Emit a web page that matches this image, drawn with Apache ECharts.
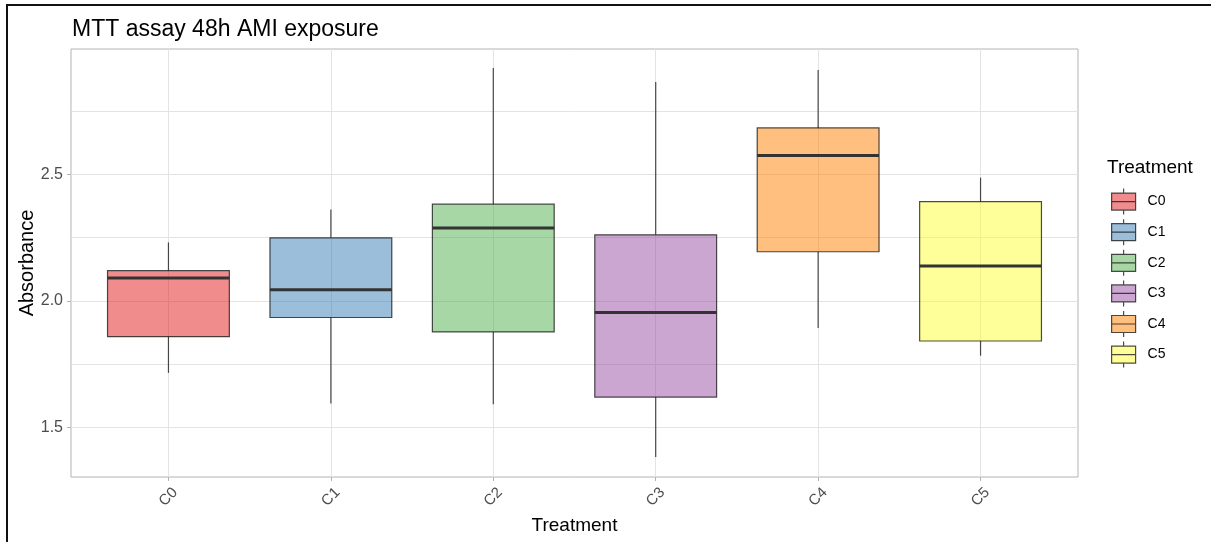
<!DOCTYPE html>
<html>
<head>
<meta charset="utf-8">
<title>MTT assay 48h AMI exposure</title>
<script src="https://cdn.jsdelivr.net/npm/echarts@6/dist/echarts.min.js"></script>
<style>
  html, body { margin: 0; padding: 0; background: #ffffff; }
  #chart { width: 1211px; height: 542px; }
</style>
</head>
<body>
<div id="chart"></div>
<script>
// Treatment groups and their box statistics (absorbance)
const CATEGORIES = ['C0', 'C1', 'C2', 'C3', 'C4', 'C5'];
const LOWER  = [1.715, 1.594, 1.591, 1.382, 1.892, 1.783];
const Q1     = [1.858, 1.934, 1.877, 1.619, 2.194, 1.841];
const MEDIAN = [2.090, 2.044, 2.288, 1.954, 2.575, 2.138];
const Q3     = [2.119, 2.249, 2.382, 2.261, 2.684, 2.392];
const UPPER  = [2.231, 2.361, 2.921, 2.865, 2.913, 2.487];

// Axis ranges and tick positions
const Y_RANGE = [1.303, 2.996];
const Y_LABEL_TICKS = [1.5, 2.0, 2.5];
const Y_GRID_TICKS = [1.5, 1.75, 2.0, 2.25, 2.5, 2.75];
const X_RANGE = [-0.6, 5.6];
const X_TICKS = [0, 1, 2, 3, 4, 5];

// Set1 palette, filled at half opacity
const PALETTE = ['#E41A1C', '#377EB8', '#4DAF4A', '#984EA3', '#FF7F00', '#FFFF33'];
const FILL_ALPHA = 0.5;
const BOX_WIDTH = 0.75;
const EDGE = 'rgba(30,30,30,0.8)';
const FONT = '"Liberation Sans", Arial, Helvetica, sans-serif';

function withAlpha(hex, a) {
  const n = parseInt(hex.slice(1), 16);
  return 'rgba(' + ((n >> 16) & 255) + ',' + ((n >> 8) & 255) + ',' + (n & 255) + ',' + a + ')';
}

// Legend key: box with whiskers and a median bar
const LEGEND_ICON = 'path://M12,0L12,4.5M0,4.5L24,4.5L24,21.5L0,21.5ZM0,13L24,13M12,21.5L12,26';

function boxRenderer(colorIndex) {
  return function (params, api) {
    const x = api.value(0);
    const lo = api.coord([x, api.value(1)]);
    const q1 = api.coord([x, api.value(2)]);
    const md = api.coord([x, api.value(3)]);
    const q3 = api.coord([x, api.value(4)]);
    const hi = api.coord([x, api.value(5)]);
    const half = api.size([BOX_WIDTH, 0])[0] / 2;
    const cx = q1[0];
    const lineStyle = { stroke: EDGE, lineWidth: 1.2 };
    return {
      type: 'group',
      children: [
        { type: 'line', shape: { x1: cx, y1: q3[1], x2: cx, y2: hi[1] }, style: lineStyle },
        { type: 'line', shape: { x1: cx, y1: q1[1], x2: cx, y2: lo[1] }, style: lineStyle },
        {
          type: 'rect',
          shape: { x: cx - half, y: q3[1], width: half * 2, height: q1[1] - q3[1] },
          style: { fill: withAlpha(PALETTE[colorIndex], FILL_ALPHA), stroke: EDGE, lineWidth: 1.2 }
        },
        {
          type: 'line',
          shape: { x1: cx - half, y1: md[1], x2: cx + half, y2: md[1] },
          style: { stroke: '#333333', lineWidth: 3 }
        }
      ]
    };
  };
}

const series = CATEGORIES.map(function (name, i) {
  return {
    type: 'custom',
    name: name,
    renderItem: boxRenderer(i),
    itemStyle: { color: withAlpha(PALETTE[i], FILL_ALPHA), borderColor: EDGE, borderWidth: 1.2 },
    encode: { x: 0, y: [1, 2, 3, 4, 5] },
    data: [[i, LOWER[i], Q1[i], MEDIAN[i], Q3[i], UPPER[i]]],
    z: 3
  };
});

const chart = echarts.init(document.getElementById('chart'), null, { renderer: 'canvas' });

chart.setOption({
  animation: false,
  backgroundColor: '#ffffff',
  textStyle: { fontFamily: FONT },
  title: [
    {
      text: 'MTT assay 48h AMI exposure',
      left: 72, top: 18, padding: 0,
      textStyle: { fontFamily: FONT, fontSize: 23, fontWeight: 'normal', color: '#000000' }
    },
    {
      text: 'Treatment',
      left: 1107, top: 158, padding: 0,
      textStyle: { fontFamily: FONT, fontSize: 19, fontWeight: 'normal', color: '#000000' }
    }
  ],
  legend: {
    orient: 'vertical',
    left: 1111, top: 188, padding: 0,
    itemWidth: 24, itemHeight: 26, itemGap: 3.4,
    selectedMode: false,
    textStyle: { fontFamily: FONT, fontSize: 14, color: '#000000', padding: [0, 0, 0, 7] },
    itemStyle: { borderColor: EDGE, borderWidth: 1.2 },
    data: CATEGORIES.map(function (name, i) {
      return {
        name: name,
        icon: LEGEND_ICON,
        itemStyle: { color: withAlpha(PALETTE[i], FILL_ALPHA), borderColor: EDGE, borderWidth: 1.2 }
      };
    })
  },
  grid: {
    left: 71, right: 133, top: 49, bottom: 65,
    show: true, borderColor: '#b3b3b3', borderWidth: 1, backgroundColor: '#ffffff',
    containLabel: false, outerBoundsMode: 'none'
  },
  xAxis: {
    type: 'value',
    min: X_RANGE[0], max: X_RANGE[1],
    name: 'Treatment',
    nameLocation: 'middle', nameGap: 31,
    nameTextStyle: { fontFamily: FONT, fontSize: 19, color: '#000000' },
    axisLine: { show: false },
    axisTick: { show: true, length: 4, lineStyle: { color: '#b3b3b3' }, customValues: X_TICKS },
    axisLabel: {
      customValues: X_TICKS,
      formatter: function (v) { return CATEGORIES[Math.round(v)]; },
      rotate: 45, align: 'center', verticalAlign: 'middle', margin: 20,
      fontFamily: FONT, fontSize: 15, color: '#4d4d4d'
    },
    splitLine: { show: true, lineStyle: { color: '#e3e3e3', width: 1 } }
  },
  yAxis: [
    {
      // horizontal grid at every quarter unit
      type: 'value',
      min: Y_RANGE[0], max: Y_RANGE[1],
      position: 'left',
      axisLine: { show: false },
      axisTick: { show: false, customValues: Y_GRID_TICKS },
      axisLabel: { show: false, customValues: Y_GRID_TICKS },
      splitLine: { show: true, lineStyle: { color: '#e3e3e3', width: 1 } }
    },
    {
      type: 'value',
      min: Y_RANGE[0], max: Y_RANGE[1],
      position: 'left', offset: 0,
      name: 'Absorbance',
      nameLocation: 'middle', nameGap: 34, nameMoveOverlap: false,
      nameTextStyle: { fontFamily: FONT, fontSize: 20, color: '#000000' },
      axisLine: { show: false },
      axisTick: { show: true, length: 4, lineStyle: { color: '#b3b3b3' }, customValues: Y_LABEL_TICKS },
      axisLabel: {
        customValues: Y_LABEL_TICKS,
        formatter: function (v) { return v.toFixed(1); },
        margin: 8, fontFamily: FONT, fontSize: 16, color: '#4d4d4d'
      },
      splitLine: { show: false }
    }
  ],
  series: series,
  graphic: [
    { type: 'rect', shape: { x: 6, y: 4, width: 1205, height: 2 }, style: { fill: '#111111' }, z: 100 },
    { type: 'rect', shape: { x: 6, y: 4, width: 2, height: 538 }, style: { fill: '#111111' }, z: 100 }
  ]
});
</script>
</body>
</html>
